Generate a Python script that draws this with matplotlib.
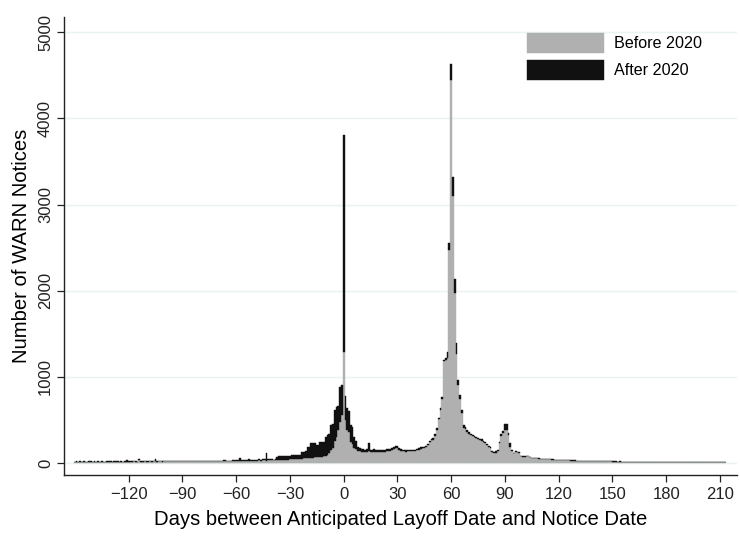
import numpy as np
import matplotlib
matplotlib.use("Agg")
import matplotlib.pyplot as plt

plt.rcParams['font.family'] = ['Liberation Sans', 'DejaVu Sans']

# days between anticipated layoff date and notice date (-150 .. 213)
days = np.arange(-150, 214)

# notices filed before 2020 (grey), read per day off the picture
before = [
    12, 14, 13, 15, 12, 14, 13, 12, 15, 14,        # -150
    13, 12, 14, 15, 13, 14, 12, 13, 15, 14,        # -140
    14, 13, 15, 16, 14, 13, 15, 14, 16, 15,        # -130
    14, 16, 15, 17, 15, 14, 38, 16, 15, 17,        # -120
    16, 15, 17, 16, 18, 17, 16, 18, 17, 16,        # -110
    18, 17, 19, 18, 17, 19, 18, 20, 19, 18,        # -100
    17, 19, 18, 20, 19, 18, 20, 19, 21, 20,        # -90
    19, 21, 20, 22, 21, 20, 22, 21, 23, 22,        # -80
    21, 23, 22, 24, 23, 22, 24, 23, 25, 24,        # -70
    24, 25, 26, 25, 27, 26, 25, 27, 26, 28,        # -60
    27, 28, 27, 29, 28, 30, 29, 28, 30, 29,        # -50
    30, 31, 30, 32, 33, 34, 35, 36, 38, 39,        # -40
    40, 41, 42, 44, 45, 46, 48, 50, 52, 54,        # -30
    56, 58, 60, 62, 64, 66, 68, 70, 74, 78,        # -20
    82, 90, 110, 150, 175, 260, 300, 380, 480, 560,  # -10
    1290, 500, 380, 360, 240, 220, 175, 160, 140, 135,  # 0
    130, 130, 128, 132, 140, 125, 126, 130, 122, 125,  # 10
    128, 128, 126, 132, 138, 142, 136, 148, 160, 175,  # 20
    172, 152, 142, 138, 134, 132, 136, 134, 139, 134,  # 30
    139, 150, 155, 165, 170, 175, 185, 205, 245, 265,  # 40
    270, 315, 385, 505, 620, 740, 1180, 1190, 1220, 2470,  # 50
    4450, 3100, 1970, 1260, 900, 740, 575, 410, 395, 360,  # 60
    340, 320, 310, 300, 290, 280, 270, 260, 245, 230,  # 70
    210, 190, 175, 130, 120, 120, 140, 230, 315, 345,  # 80
    380, 380, 320, 190, 140, 110, 125, 125, 120, 77,   # 90
    72, 72, 77, 75, 67, 58, 56, 53, 53, 50,        # 100
    48, 46, 43, 42, 40, 40, 38, 38, 36, 36,        # 110
    34, 33, 32, 31, 30, 29, 29, 28, 27, 27,        # 120
    26, 25, 25, 24, 24, 23, 23, 22, 22, 21,        # 130
    21, 20, 20, 19, 19, 18, 18, 18, 17, 17,        # 140
    16, 16, 16, 15, 15, 15, 14, 14, 14, 14,        # 150
    13, 13, 13, 13, 12, 12, 12, 12, 12, 11,        # 160
    11, 11, 11, 11, 10, 10, 10, 10, 10, 10,        # 170
    10, 10, 9, 9, 9, 9, 9, 9, 9, 9,                # 180
    9, 8, 9, 8, 8, 8, 8, 9, 8, 8,                  # 190
    8, 8, 7, 8, 8, 7, 8, 8, 7, 8,                  # 200
    8, 7, 8, 8,                                    # 210
]

# notices filed after 2020 (black), stacked on top
after = [
    2, 3, 2, 3, 2, 3, 2, 3, 2, 3,                  # -150
    2, 15, 2, 3, 2, 3, 2, 3, 2, 3,                 # -140
    3, 2, 3, 2, 3, 2, 3, 2, 3, 15,                 # -130
    3, 2, 3, 2, 3, 2, 3, 2, 3, 2,                  # -120
    3, 2, 3, 2, 3, 25, 3, 2, 3, 2,                 # -110
    3, 10, 3, 2, 3, 2, 3, 2, 3, 2,                 # -100
    3, 3, 4, 3, 4, 3, 4, 3, 4, 3,                  # -90
    4, 3, 4, 5, 4, 3, 4, 5, 4, 3,                  # -80
    4, 5, 4, 5, 6, 5, 4, 5, 6, 5,                  # -70
    5, 6, 30, 8, 6, 5, 10, 14, 12, 10,             # -60
    10, 9, 11, 12, 10, 14, 12, 90, 15, 12,         # -50
    10, 8, 10, 40, 45, 44, 46, 42, 44, 45,         # -40
    45, 48, 48, 46, 46, 45, 47, 80, 78, 80,        # -30
    134, 132, 175, 173, 172, 144, 142, 175, 172, 170,  # -20
    218, 230, 220, 290, 275, 360, 350, 280, 400, 340,  # -10
    2520, 280, 260, 240, 200, 200, 125, 100, 45, 35,   # 0
    30, 30, 27, 33, 90, 25, 24, 30, 23, 25,        # 10
    27, 22, 22, 23, 22, 23, 22, 22, 25, 25,        # 20
    23, 18, 18, 17, 16, 16, 16, 16, 16, 16,        # 30
    16, 15, 15, 15, 15, 15, 15, 15, 15, 15,        # 40
    15, 15, 15, 15, 20, 25, 20, 30, 70, 80,        # 50
    180, 220, 160, 130, 60, 50, 40, 30, 25, 20,    # 60
    20, 18, 16, 15, 14, 14, 13, 12, 12, 12,        # 70
    12, 12, 10, 10, 10, 15, 15, 18, 25, 25,        # 80
    70, 70, 30, 40, 10, 8, 8, 6, 5, 4,             # 90
    4, 4, 4, 3, 3, 3, 3, 3, 3, 3,                  # 100
    3, 3, 3, 3, 2, 2, 2, 2, 2, 2,                  # 110
    2, 2, 2, 2, 2, 2, 2, 2, 2, 2,                  # 120
    2, 2, 2, 2, 2, 2, 2, 2, 2, 2,                  # 130
    2, 2, 1, 2, 1, 2, 1, 2, 1, 2,                  # 140
    1, 2, 1, 1, 2, 1, 1, 2, 1, 1,                  # 150
    1, 1, 1, 1, 1, 1, 1, 1, 1, 1,                  # 160
    1, 1, 1, 1, 1, 1, 1, 1, 1, 1,                  # 170
    1, 1, 1, 1, 1, 1, 1, 1, 1, 1,                  # 180
    1, 1, 1, 1, 1, 1, 1, 1, 1, 1,                  # 190
    1, 1, 1, 1, 1, 1, 1, 1, 1, 1,                  # 200
    1, 1, 1, 1,                                    # 210
]

xticks = np.arange(-120, 211, 30)
yticks = np.arange(0, 5001, 1000)

grey = '#b0b0b0'
black = '#111111'

fig = plt.figure(figsize=(7.4, 5.37), dpi=100)
ax = fig.add_axes([0.0865, 0.1155, 0.9095, 0.8525])

ax.bar(days, before, width=1.0, color=grey, edgecolor=grey, linewidth=0.3,
       label='Before 2020', zorder=2)
ax.bar(days, after, width=1.0, bottom=before, color=black, edgecolor=black,
       linewidth=0.3, label='After 2020', zorder=2)

ax.set_xlim(-156, 219.5)
ax.set_ylim(-140, 5175)
ax.set_xticks(xticks)
ax.set_yticks(yticks)
ax.grid(axis='y', color='#eaf2f3', linewidth=1.0, zorder=0)
ax.set_axisbelow(True)

for s in ['top', 'right']:
    ax.spines[s].set_visible(False)
for s in ['left', 'bottom']:
    ax.spines[s].set_linewidth(1.0)
    ax.spines[s].set_color('#222222')

ax.tick_params(axis='both', direction='out', length=5, width=0.9,
               labelsize=12, colors='#222222')
ax.tick_params(axis='y', pad=3)
for lab in ax.get_yticklabels():
    lab.set_rotation(90)
    lab.set_va('center')

ax.set_xlabel('Days between Anticipated Layoff Date and Notice Date',
              fontsize=14.6, labelpad=6)
ax.set_ylabel('Number of WARN Notices', fontsize=14.6, labelpad=5)

ax.legend(loc='upper left', bbox_to_anchor=(527 / 740, 1 - 33 / 537),
          bbox_transform=fig.transFigure, frameon=False, fontsize=11.6,
          handlelength=4.8, handleheight=1.5, handletextpad=0.6,
          labelspacing=0.45, borderpad=0, borderaxespad=0)

fig.savefig('out.png', dpi=100)
